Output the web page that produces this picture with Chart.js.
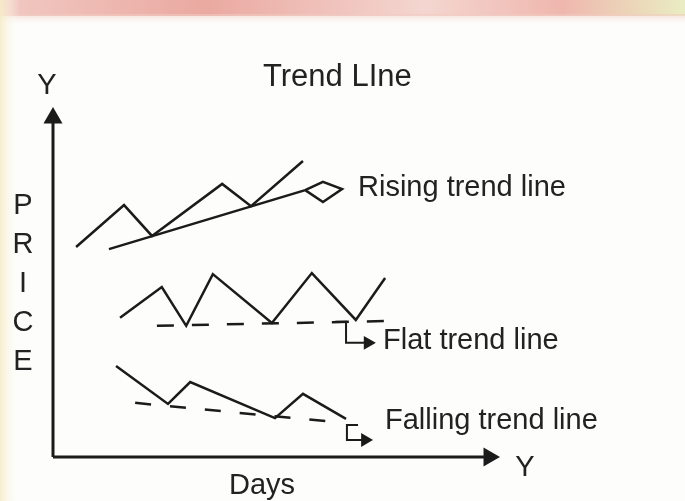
<!DOCTYPE html>
<html>
<head>
<meta charset="utf-8">
<script src="https://cdn.jsdelivr.net/npm/chart.js@4/dist/chart.umd.min.js"></script>
<style>
  html, body { margin: 0; padding: 0; background: #fff; }
  canvas { display: block; }
</style>
</head>
<body>
<canvas id="trendChart" width="685" height="501"></canvas>
<script>
// Diagram values, in axis units (Days 0-100 along x, Price 0-100 along y)
const risingPriceX = [5.2, 16.0, 22.3, 38.1, 44.6, 56.3];
const risingPriceY = [60.5, 72.6, 63.7, 78.7, 72.3, 85.3];
const risingTrendX = [12.6, 56.8, 60.8, 65.1, 60.8, 56.8];
const risingTrendY = [59.9, 76.9, 79.3, 77.2, 73.5, 76.9];

const flatPriceX = [15.1, 24.5, 30.0, 36.0, 49.3, 58.3, 68.2, 74.8];
const flatPriceY = [40.1, 49.0, 37.8, 52.7, 38.6, 53.0, 39.5, 51.6];
const flatTrendX = [23.4, 75.2];
const flatTrendY = [37.8, 39.2];
const flatCalloutX = [63.6, 66.0, 66.0, 70.9];
const flatCalloutY = [39.0, 39.0, 32.9, 32.9];

const fallingPriceX = [14.2, 25.9, 30.9, 50.0, 56.3, 66.0];
const fallingPriceY = [26.2, 15.3, 21.6, 11.2, 18.2, 11.0];
const fallingTrendX = [18.5, 62.5];
const fallingTrendY = [15.6, 10.2];
const fallingCalloutX = [68.7, 66.2, 66.2, 70.3];
const fallingCalloutY = [9.2, 9.2, 4.9, 4.9];

const axisX = [0, 98.2];
const axisY = [0, 97.7];

const ink = '#1b1b1b';

function pts(xs, ys) {
  return xs.map((x, i) => ({ x: x, y: ys[i] }));
}

function lineSet(label, xs, ys, extra) {
  return Object.assign({
    label: label,
    data: pts(xs, ys),
    showLine: true,
    borderColor: ink,
    backgroundColor: ink,
    borderWidth: 2.5,
    pointRadius: 0,
    tension: 0,
    clip: false,
  }, extra || {});
}

// background of the scanned page + all the text labels
const pagePlugin = {
  id: 'page',
  beforeDraw(chart) {
    const ctx = chart.ctx;
    const w = chart.width, h = chart.height;
    ctx.save();
    ctx.fillStyle = '#fdfdfb';
    ctx.fillRect(0, 0, w, h);
    // tinted band at the top
    const band = ctx.createLinearGradient(0, 0, w, 0);
    band.addColorStop(0, '#f1c9c2');
    band.addColorStop(0.3, '#eaa9a1');
    band.addColorStop(0.62, '#f4d6d0');
    band.addColorStop(0.82, '#efb7ae');
    band.addColorStop(1, '#e9edc2');
    ctx.fillStyle = band;
    ctx.fillRect(0, 0, w, 16);
    const fade = ctx.createLinearGradient(0, 14, 0, 26);
    fade.addColorStop(0, 'rgba(240,200,190,0.6)');
    fade.addColorStop(1, 'rgba(253,253,251,0)');
    ctx.fillStyle = fade;
    ctx.fillRect(0, 14, w, 12);
    // tinted strip on the left
    const strip = ctx.createLinearGradient(0, 0, 20, 0);
    strip.addColorStop(0, 'rgba(246,236,200,0.9)');
    strip.addColorStop(1, 'rgba(253,253,251,0)');
    ctx.fillStyle = strip;
    ctx.fillRect(0, 0, 20, h);
    ctx.restore();
  },
  afterDraw(chart) {
    const ctx = chart.ctx;
    ctx.save();
    ctx.fillStyle = '#222';
    ctx.textBaseline = 'alphabetic';
    ctx.textAlign = 'left';
    ctx.font = '31px "Liberation Sans", Arial, sans-serif';
    ctx.fillText('Trend LIne', 263, 86);
    ctx.font = '29px "Liberation Sans", Arial, sans-serif';
    ctx.fillText('Rising trend line', 358, 196);
    ctx.fillText('Flat trend line', 383, 349);
    ctx.fillText('Falling trend line', 385, 429);
    ctx.fillText('Days', 229, 494);
    ctx.textAlign = 'center';
    ctx.fillText('Y', 47, 94);
    ctx.fillText('Y', 525, 476);
    const price = ['P', 'R', 'I', 'C', 'E'];
    price.forEach((ch, i) => ctx.fillText(ch, 23, 214 + i * 39));
    ctx.restore();
  }
};

const ctx = document.getElementById('trendChart').getContext('2d');
new Chart(ctx, {
  type: 'scatter',
  data: {
    datasets: [
      lineSet('Days axis', axisX, [0, 0], {
        borderWidth: 3,
        pointRadius: [0, 8],
        pointStyle: 'triangle',
        rotation: [0, 90],
      }),
      lineSet('Price axis', [0, 0], axisY, {
        borderWidth: 3,
        pointRadius: [0, 8],
        pointStyle: 'triangle',
      }),
      lineSet('Rising price', risingPriceX, risingPriceY),
      lineSet('Rising trend line', risingTrendX, risingTrendY),
      lineSet('Flat price', flatPriceX, flatPriceY),
      lineSet('Flat trend line', flatTrendX, flatTrendY, { borderDash: [17, 18] }),
      lineSet('Flat callout', flatCalloutX, flatCalloutY, {
        borderWidth: 2,
        pointRadius: [0, 0, 0, 6],
        pointStyle: 'triangle',
        rotation: 90,
      }),
      lineSet('Falling price', fallingPriceX, fallingPriceY),
      lineSet('Falling trend line', fallingTrendX, fallingTrendY, { borderDash: [16, 19] }),
      lineSet('Falling callout', fallingCalloutX, fallingCalloutY, {
        borderWidth: 2,
        pointRadius: [0, 0, 0, 6],
        pointStyle: 'triangle',
        rotation: 90,
      }),
    ],
  },
  options: {
    responsive: false,
    animation: false,
    devicePixelRatio: 1,
    layout: { padding: { left: 53, right: 188, top: 110, bottom: 44 } },
    scales: {
      x: { type: 'linear', min: 0, max: 100, display: false },
      y: { type: 'linear', min: 0, max: 100, display: false },
    },
    plugins: {
      legend: { display: false },
      tooltip: { enabled: false },
    },
  },
  plugins: [pagePlugin],
});
</script>
</body>
</html>
